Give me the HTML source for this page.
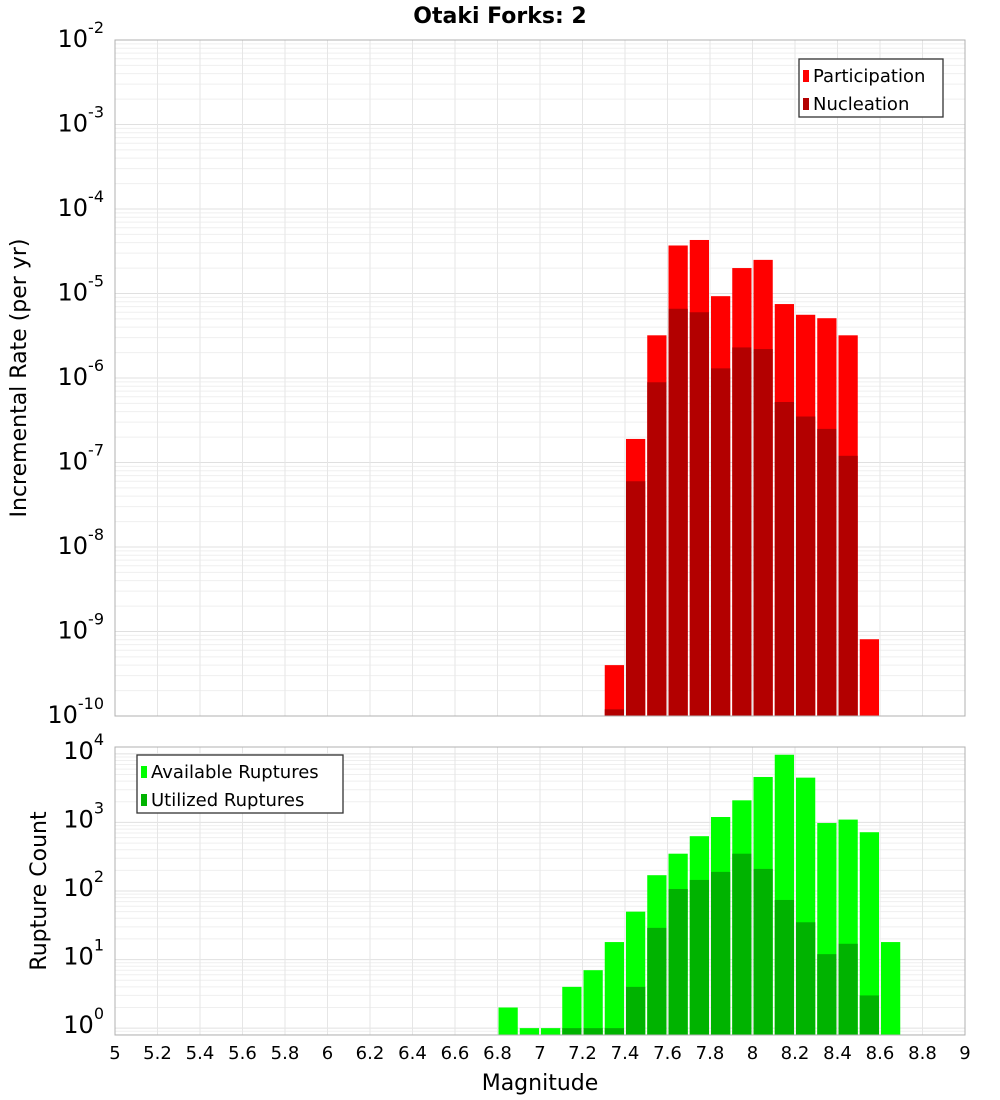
<!DOCTYPE html>
<html><head><meta charset="utf-8">
<style>
html,body{margin:0;padding:0;background:#fff;}
svg{display:block;font-family:"DejaVu Sans","Liberation Sans",sans-serif;}
</style></head>
<body>
<svg id="c" width="1000" height="1100" xmlns="http://www.w3.org/2000/svg"></svg>
<script>
const binCenters=[6.85,6.95,7.05,7.15,7.25,7.35,7.45,7.55,7.65,7.75,7.85,7.95,8.05,8.15,8.25,8.35,8.45,8.55,8.65];
const participation=[0,0,0,0,0,4e-10,1.9e-7,3.2e-6,3.7e-5,4.3e-5,9.3e-6,2.0e-5,2.5e-5,7.5e-6,5.6e-6,5.1e-6,3.2e-6,8.1e-10,0];
const nucleation=[0,0,0,0,0,1.2e-10,6e-8,8.9e-7,6.6e-6,6e-6,1.3e-6,2.3e-6,2.2e-6,5.2e-7,3.5e-7,2.5e-7,1.2e-7,0,0];
const available=[2,1,1,4,7,18,50,170,350,630,1200,2100,4600,9700,4500,980,1100,720,18];
const utilized=[0,0,0,1,1,1,4,29,107,145,190,350,210,74,35,12,17,3,0];
const xTicks=["5","5.2","5.4","5.6","5.8","6","6.2","6.4","6.6","6.8","7","7.2","7.4","7.6","7.8","8","8.2","8.4","8.6","8.8","9"];
const topExps=[-2,-3,-4,-5,-6,-7,-8,-9,-10];
const botExps=[4,3,2,1,0];

const NS="http://www.w3.org/2000/svg";
const svg=document.getElementById('c');
function mk(tag,attrs,parent){const e=document.createElementNS(NS,tag);for(const k in attrs)e.setAttribute(k,attrs[k]);(parent||svg).appendChild(e);return e;}
const X0=115,X1=965;
const xs=v=>X0+(v-5)/4*(X1-X0);
// top axis: 1e-2 at 40, 1e-10 at 716
const T0=40,T1=716;
const yTop=v=>T0+(-2-Math.log10(v))/8*(T1-T0);
// bottom axis: 10^4.1 at 747, 10^-0.1 at 1035
const B0=747,B1=1035;
const yBot=v=>B0+(4.1-Math.log10(v))/4.2*(B1-B0);

function grid(y0,y1,ys,lo,hi){
  for(let d=lo;d<hi;d++){for(let m=1;m<10;m++){const v=m*Math.pow(10,d);const y=ys(v);if(y<y0-0.5||y>y1+0.5)continue;
    const l=mk('line',{x1:X0,x2:X1,y1:y,y2:y,stroke:m==1?'#e0e0e0':'#efefef','stroke-width':1});
    }}
  for(let i=0;i<xTicks.length;i++){const x=xs(+xTicks[i]);
    const l=mk('line',{x1:x,x2:x,y1:y0,y2:y1,stroke:'#e6e6e6','stroke-width':1});
    }
}
grid(T0,T1,yTop,-10,-1);
grid(B0,B1,yBot,-1,5);

function bars(vals,ys,yBase,color,name){
  const g=mk('g',{});
  for(let i=0;i<binCenters.length;i++){const v=vals[i];if(!(v>0))continue;
    const xl=xs(binCenters[i]-0.05)+1,xr=xs(binCenters[i]+0.05)-1;const y=Math.max(ys(v),0);
    const r=mk('rect',{x:xl,y:y,width:xr-xl,height:Math.max(yBase-y,0),fill:color},g);
    }
}
bars(participation,yTop,T1,'#ff0000','participation');
bars(nucleation,yTop,T1,'#b30000','nucleation');
bars(available,yBot,B1,'#00ff00','available');
bars(utilized,yBot,B1,'#00b300','utilized');

// frames
let f=mk('rect',{x:X0,y:T0,width:X1-X0,height:T1-T0,fill:'none',stroke:'#b0b0b0'});
f=mk('rect',{x:X0,y:B0,width:X1-X0,height:B1-B0,fill:'none',stroke:'#b0b0b0'});

// y tick labels
function ylabel(exp,y,name){const t=mk('text',{x:104,y:y+9,'text-anchor':'end','font-size':24,fill:'#000'});
  
  t.textContent='10';const s=mk('tspan',{dy:-14,'font-size':16},t);s.textContent=String(exp);}
topExps.forEach(e=>ylabel(e,yTop(Math.pow(10,e))-2,'y-tick-label'));
botExps.forEach(e=>ylabel(e,yBot(Math.pow(10,e))-4,'y-tick-label'));
// shift exponent so text right edge aligns ~ like reference
// x tick labels
xTicks.forEach(s=>{const t=mk('text',{x:xs(+s),y:1059,'text-anchor':'middle','font-size':18,fill:'#000'});
  t.textContent=s;});

// titles
let t=mk('text',{x:500,y:23,'text-anchor':'middle','font-size':22,'font-weight':'bold'});t.textContent='Otaki Forks: 2';
t=mk('text',{x:540,y:1090,'text-anchor':'middle','font-size':22});t.textContent='Magnitude';
t=mk('text',{x:0,y:0,'text-anchor':'middle','font-size':22,transform:'translate(26,378) rotate(-90)'});t.textContent='Incremental Rate (per yr)';
t=mk('text',{x:0,y:0,'text-anchor':'middle','font-size':22,transform:'translate(46,891) rotate(-90)'});t.textContent='Rupture Count';

// legends
function legend(x,y,w,items,name){const g=mk('g',{});
  mk('rect',{x:x,y:y,width:w,height:58,fill:'#fff',stroke:'#333','stroke-width':1.3},g);
  items.forEach((it,i)=>{const r=mk('rect',{x:x+4,y:y+11+i*28,width:6,height:12,fill:it[1]},g);
    
    const tt=mk('text',{x:x+14,y:y+23+i*28,'font-size':18},g);tt.textContent=it[0];});
}
legend(799,59,144,[['Participation','#ff0000'],['Nucleation','#b30000']],'top-legend');
legend(137,755,206,[['Available Ruptures','#00ff00'],['Utilized Ruptures','#00b300']],'bottom-legend');
</script>
</body></html>
